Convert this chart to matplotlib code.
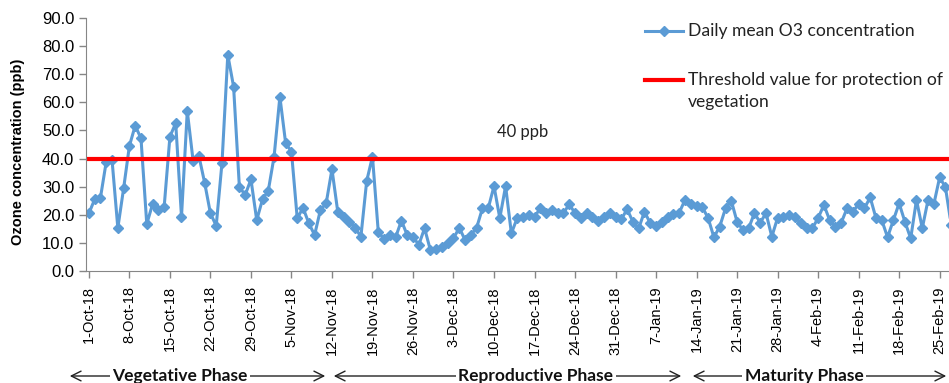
import pandas as pd
import matplotlib
matplotlib.use("Agg")
import matplotlib.pyplot as plt
from matplotlib.lines import Line2D

# daily mean O3 (ppb), 1-Oct-18 onwards
o3 = [20.5, 25.5, 26.1, 38.9, 39.5, 15.3, 29.4, 44.5, 51.7, 47.2,
      16.7, 23.8, 21.7, 22.7, 47.8, 52.6, 19.3, 56.9, 39.3, 41.0,
      31.4, 20.5, 16.1, 38.5, 76.9, 65.6, 30.0, 27.0, 32.6, 18.1,
      25.5, 28.6, 40.7, 62.0, 45.4, 42.5, 18.7, 22.5, 17.0, 12.8,
      21.7, 24.1, 36.2, 21.1, 19.1, 17.5, 15.4, 12.2, 32.0, 40.7,
      14.0, 11.3, 12.8, 12.0, 17.9, 12.8, 12.2, 9.3, 15.2, 7.5,
      7.7, 8.6, 9.9, 11.6, 15.4, 11.0, 12.8, 15.4, 22.3, 22.3,
      30.2, 18.8, 30.2, 13.4, 18.8, 19.3, 19.9, 19.3, 22.3, 20.5,
      21.7, 20.5, 20.5, 23.8, 20.5, 18.8, 20.5, 19.3, 17.9, 19.3,
      20.5, 19.1, 18.4, 22.0, 17.5, 15.2, 21.1, 17.0, 16.0, 17.5,
      19.1, 20.2, 20.7, 25.3, 23.8, 23.1, 22.7, 18.8, 12.0, 15.8,
      22.3, 25.0, 17.5, 14.6, 15.2, 20.6, 17.2, 20.6, 12.2, 18.9,
      19.2, 19.9, 19.3, 17.0, 15.2, 15.2, 18.8, 23.5, 18.1, 15.8,
      17.2, 22.3, 21.1, 23.8, 22.3, 26.2, 18.8, 18.1, 12.0, 18.1,
      24.1, 17.5, 11.6, 25.3, 15.2, 25.3, 23.8, 33.3, 29.8, 16.4]
start_date = "2018-10-01"
threshold = 40
tick_labels = ["1-Oct-18", "8-Oct-18", "15-Oct-18", "22-Oct-18", "29-Oct-18",
               "5-Nov-18", "12-Nov-18", "19-Nov-18", "26-Nov-18", "3-Dec-18",
               "10-Dec-18", "17-Dec-18", "24-Dec-18", "31-Dec-18", "7-Jan-19",
               "14-Jan-19", "21-Jan-19", "28-Jan-19", "4-Feb-19", "11-Feb-19",
               "18-Feb-19", "25-Feb-19"]
phases = ["Vegetative Phase", "Reproductive Phase", "Maturity Phase"]

dates = pd.date_range(start_date, periods=len(o3), freq="D")
tick_dates = pd.date_range(start_date, periods=len(tick_labels), freq="7D")

W, H = 949, 383
fig = plt.figure(figsize=(W / 100, H / 100), dpi=100)


def fx(px):
    return px / W


def fy(py):
    return 1 - py / H


blue = "#5B9BD5"
red = "#FF0000"
grey = "#868686"

ax = fig.add_axes([fx(86), fy(271), fx(957 - 86), fy(18) - fy(271)])
ax.plot(dates, o3, color=blue, lw=2.2, marker="D", ms=5, mec=blue, mfc=blue)
ax.axhline(threshold, color=red, lw=3.0)

ax.set_ylim(0, 90)
ax.set_yticks(range(0, 91, 10))
ax.set_yticklabels([f"{v:.1f}" for v in range(0, 91, 10)],
                   fontsize=12, family="Liberation Sans")
ax.set_xlim(dates[0] - pd.Timedelta(hours=12), dates[0] + pd.Timedelta(days=150))
ax.set_xticks(tick_dates)
ax.set_xticklabels(tick_labels, rotation=90, fontsize=10.5, family="Liberation Sans")
ax.tick_params(axis="both", direction="out", length=5, color=grey, width=1)
ax.tick_params(axis="x", pad=6)
for s in ["top", "right"]:
    ax.spines[s].set_visible(False)
for s in ["left", "bottom"]:
    ax.spines[s].set_color(grey)

fig.text(fx(18), fy(152), "Ozone concentration (ppb)", rotation=90,
         ha="center", va="center", fontsize=10.5, fontweight="bold",
         family="Liberation Sans")

ax.text(dates[0] + pd.Timedelta(days=75), 49.5, f"{threshold} ppb",
        ha="center", va="center", fontsize=12, family="Lato", color="#222222")

# legend drawn by hand
fig.add_artist(Line2D([fx(645), fx(683)], [fy(31), fy(31)], color=blue, lw=2.2))
fig.add_artist(Line2D([fx(664)], [fy(31)], color=blue, marker="D", ms=5))
fig.add_artist(Line2D([fx(645), fx(683)], [fy(80), fy(80)], color=red, lw=3.0))
fig.text(fx(688), fy(31), "Daily mean O3 concentration", ha="left", va="center",
         fontsize=12.6, family="Lato", color="#222222")
fig.text(fx(688), fy(80), "Threshold value for protection of", ha="left",
         va="center", fontsize=12.6, family="Lato", color="#222222")
fig.text(fx(688), fy(102), "vegetation", ha="left", va="center",
         fontsize=12.6, family="Lato", color="#222222")

# phase arrows below the axis
spans = [(67, 328, 180), (331, 684, 536), (690, 949, 804)]
for (x0, x1, xc), name in zip(spans, phases):
    fig.add_artist(matplotlib.patches.FancyArrowPatch(
        (fx(x0), fy(376)), (fx(x1), fy(376)), transform=fig.transFigure,
        arrowstyle="<->,head_length=7,head_width=3.5", lw=1.0, color="#222222"))
    fig.text(fx(xc), fy(376), name, ha="center", va="center", fontsize=12.5,
             fontweight="bold", family="Lato", color="#111111",
             bbox=dict(facecolor="white", edgecolor="none", pad=2))

fig.savefig("out.png", dpi=100)
